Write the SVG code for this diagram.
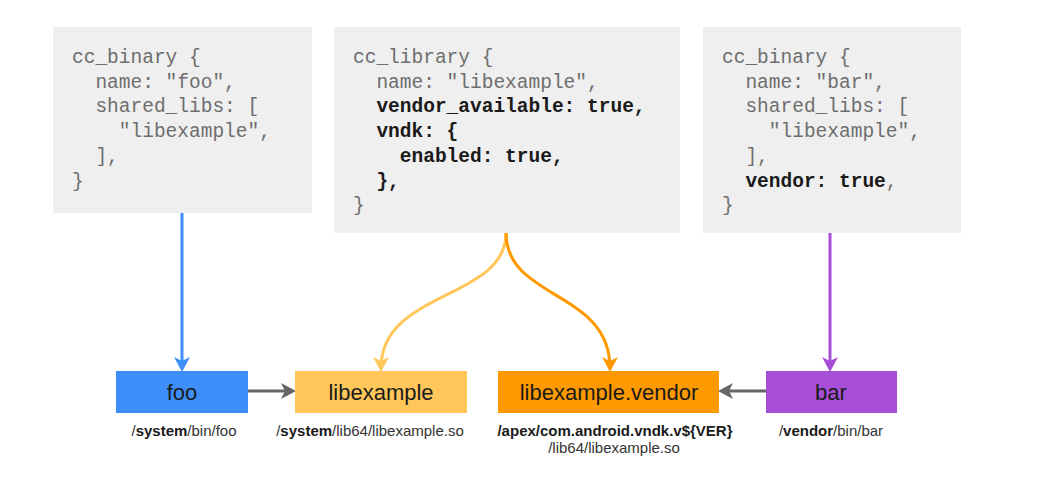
<svg xmlns="http://www.w3.org/2000/svg" width="1042" height="477" viewBox="0 0 1042 477">
<style>
.box{fill:#efefef}
.code{font-family:"Liberation Mono","Courier New",monospace;font-size:19.5px;fill:#6e6e6e}
.b{font-weight:bold;fill:#1a1a1a}
.lbl{font-family:"Liberation Sans",Arial,sans-serif;font-size:22px;fill:#1a1a1a;text-anchor:middle}
.path{font-family:"Liberation Sans",Arial,sans-serif;font-size:15px;fill:#333;text-anchor:middle}
.pb{font-weight:bold;fill:#1a1a1a}
.ln{fill:none;stroke-width:3}
</style>
<defs>
<marker id="ab" markerUnits="userSpaceOnUse" markerWidth="18" markerHeight="18" refX="11" refY="8" orient="auto"><path d="M0,0 L15,8 L0,16 L4,8 z" fill="#3d8ef8"/></marker>
<marker id="ay" markerUnits="userSpaceOnUse" markerWidth="18" markerHeight="18" refX="11" refY="8" orient="auto"><path d="M0,0 L15,8 L0,16 L4,8 z" fill="#ffc75a"/></marker>
<marker id="ao" markerUnits="userSpaceOnUse" markerWidth="18" markerHeight="18" refX="11" refY="8" orient="auto"><path d="M0,0 L15,8 L0,16 L4,8 z" fill="#ff9900"/></marker>
<marker id="ap" markerUnits="userSpaceOnUse" markerWidth="18" markerHeight="18" refX="11" refY="8" orient="auto"><path d="M0,0 L15,8 L0,16 L4,8 z" fill="#a64fd6"/></marker>
<marker id="ag" markerUnits="userSpaceOnUse" markerWidth="18" markerHeight="18" refX="11" refY="8" orient="auto"><path d="M0,0 L15,8 L0,16 L4,8 z" fill="#666"/></marker>
</defs>
<rect width="1042" height="477" fill="#fff"/>

<g id="code-foo">
<rect class="box" x="53" y="27" width="259" height="186"/>
<text class="code">
<tspan x="72" y="63">cc_binary {</tspan>
<tspan x="95.4" y="87.7">name: "foo",</tspan>
<tspan x="95.4" y="112.4">shared_libs: [</tspan>
<tspan x="118.8" y="137.1">"libexample",</tspan>
<tspan x="95.4" y="161.8">],</tspan>
<tspan x="72" y="186.5">}</tspan>
</text>
</g>

<g id="code-libexample">
<rect class="box" x="334" y="27" width="346" height="206"/>
<text class="code">
<tspan x="353" y="63">cc_library {</tspan>
<tspan x="376.4" y="87.7">name: "libexample",</tspan>
<tspan x="376.4" y="112.4" class="b">vendor_available: true<tspan class="b">,</tspan></tspan>
<tspan x="376.4" y="137.1" class="b">vndk: {</tspan>
<tspan x="399.8" y="161.8" class="b">enabled: true,</tspan>
<tspan x="376.4" y="186.5" class="b">},</tspan>
<tspan x="353" y="211.2">}</tspan>
</text>
</g>

<g id="code-bar">
<rect class="box" x="703" y="27" width="258" height="206"/>
<text class="code">
<tspan x="722" y="63">cc_binary {</tspan>
<tspan x="745.4" y="87.7">name: "bar",</tspan>
<tspan x="745.4" y="112.4">shared_libs: [</tspan>
<tspan x="768.8" y="137.1">"libexample",</tspan>
<tspan x="745.4" y="161.8">],</tspan>
<tspan x="745.4" y="186.5" class="b">vendor: true<tspan style="font-weight:normal;fill:#6e6e6e">,</tspan></tspan>
<tspan x="722" y="211.2">}</tspan>
</text>
</g>

<g id="connectors">
<line class="ln" x1="182" y1="213" x2="182" y2="368" stroke="#3d8ef8" marker-end="url(#ab)"/>
<line class="ln" x1="830" y1="233" x2="830" y2="368" stroke="#a64fd6" marker-end="url(#ap)"/>
<path class="ln" d="M506,233 C506,300 381,290 381,368" stroke="#ffc75a" marker-end="url(#ay)"/>
<path class="ln" d="M506,233 C506,300 610,290 610,368" stroke="#ff9900" marker-end="url(#ao)"/>
<line class="ln" x1="248" y1="391" x2="292" y2="391" stroke="#666" marker-end="url(#ag)"/>
<line class="ln" x1="766" y1="391" x2="722" y2="391" stroke="#666" marker-end="url(#ag)"/>
</g>

<g id="node-foo">
<rect x="116" y="371" width="132" height="42" fill="#3d8ef8"/>
<text class="lbl" x="182" y="400">foo</text>
<text class="path" x="184" y="436">/<tspan class="pb">system</tspan>/bin/foo</text>
</g>

<g id="node-libexample">
<rect x="295" y="371" width="172" height="42" fill="#ffc75a"/>
<text class="lbl" x="381" y="400">libexample</text>
<text class="path" x="370" y="436">/<tspan class="pb">system</tspan>/lib64/libexample.so</text>
</g>

<g id="node-libexample-vendor">
<rect x="498" y="371" width="221" height="42" fill="#ff9900"/>
<text class="lbl" x="609" y="400">libexample.vendor</text>
<text class="path" x="615" y="436"><tspan class="pb">/apex/com.android.vndk.v${VER}</tspan></text>
<text class="path" x="614" y="453">/lib64/libexample.so</text>
</g>

<g id="node-bar">
<rect x="766" y="371" width="131" height="42" fill="#a64fd6"/>
<text class="lbl" x="831" y="400">bar</text>
<text class="path" x="831" y="436">/<tspan class="pb">vendor</tspan>/bin/bar</text>
</g>
</svg>
